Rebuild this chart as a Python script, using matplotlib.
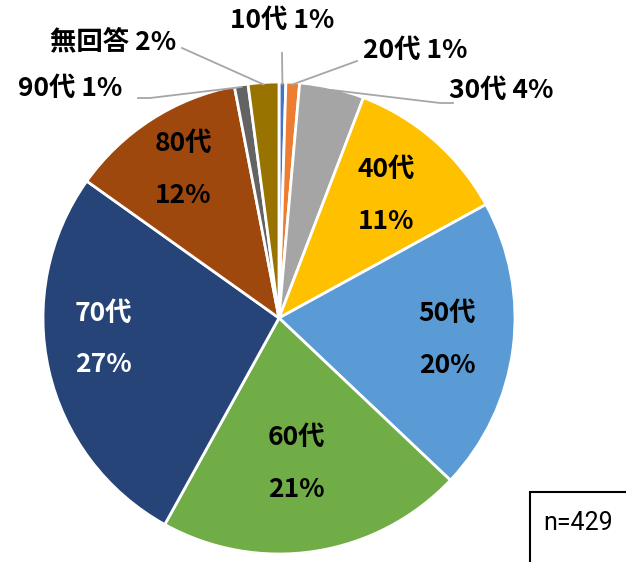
import numpy as np
import matplotlib
matplotlib.use('Agg')
import matplotlib.pyplot as plt
from matplotlib.patches import Rectangle

plt.rcParams['font.family'] = ['Noto Sans CJK JP', 'DejaVu Sans']

labels = ['10代', '20代', '30代', '40代', '50代', '60代', '70代', '80代', '90代', '無回答']
counts = [2, 4, 19, 48, 86, 90, 115, 52, 4, 9]
pcts = ['1%', '1%', '4%', '11%', '20%', '21%', '27%', '12%', '1%', '2%']
colors = ['#4472C4', '#ED7D31', '#A5A5A5', '#FFC000', '#5B9BD5',
          '#70AD47', '#264478', '#9E480E', '#636363', '#997300']
n_total = 429

fig = plt.figure(figsize=(6.26, 5.62), dpi=100)
ax = fig.add_axes([0, 0, 1, 1])

cx, cy, R = 279, 244, 236
ax.pie(counts, colors=colors, startangle=90, counterclock=False,
       center=(cx, cy), radius=R, frame=True,
       wedgeprops=dict(edgecolor='white', linewidth=2))
ax.set_xlim(0, 626)
ax.set_ylim(0, 562)
ax.set_aspect('equal')
ax.axis('off')

# angle (deg, clockwise from top) at middle of each slice
cum = np.cumsum([0] + counts)
mid = (cum[:-1] + cum[1:]) / 2 / sum(counts) * 360

def pt(angle, r):
    a = np.deg2rad(angle)
    return cx + r * np.sin(a), cy + r * np.cos(a)

fs = 19

# labels inside the big slices: (radius factor, angle shift)
inside = {3: (0.69, 0), 4: (0.72, 0), 5: (0.62, 2), 6: (0.75, 6), 7: (0.75, 0)}
for i, (f, da) in inside.items():
    x, y = pt(mid[i] + da, R * f)
    c = 'white' if i == 6 else 'black'
    ax.text(x, y + 26, labels[i], ha='center', va='center', fontsize=fs,
            fontweight='bold', color=c)
    ax.text(x, y - 26, pcts[i], ha='center', va='center', fontsize=fs,
            fontweight='bold', color=c)

# labels outside the small slices with leader lines
outside = {
    0: ((282, 542), [(282, 509)]),
    1: ((415, 512), [(357, 501)]),
    2: ((501, 472), [(440, 459), (453, 459)]),
    8: ((70, 474), [(150, 464), (138, 464)]),
    9: ((113, 520), [(182, 514)]),
}
for i, (tpos, path) in outside.items():
    x0, y0 = pt(mid[i], R - 2)
    xs = [x0] + [p[0] for p in path]
    ys = [y0] + [p[1] for p in path]
    ax.plot(xs, ys, color='#A6A6A6', lw=1.3)
    ax.text(tpos[0], tpos[1], f'{labels[i]} {pcts[i]}', ha='center', va='center',
            fontsize=fs, fontweight='bold')

ax.add_patch(Rectangle((530, -5), 110, 75, fill=False, edgecolor='black', lw=1.5))
ax.text(578, 39, f'n={n_total}', ha='center', va='center', fontsize=18,
        family=['Liberation Sans Narrow', 'DejaVu Sans Condensed', 'Roboto'],
        fontstretch='condensed')

fig.savefig('out.png', dpi=100)
